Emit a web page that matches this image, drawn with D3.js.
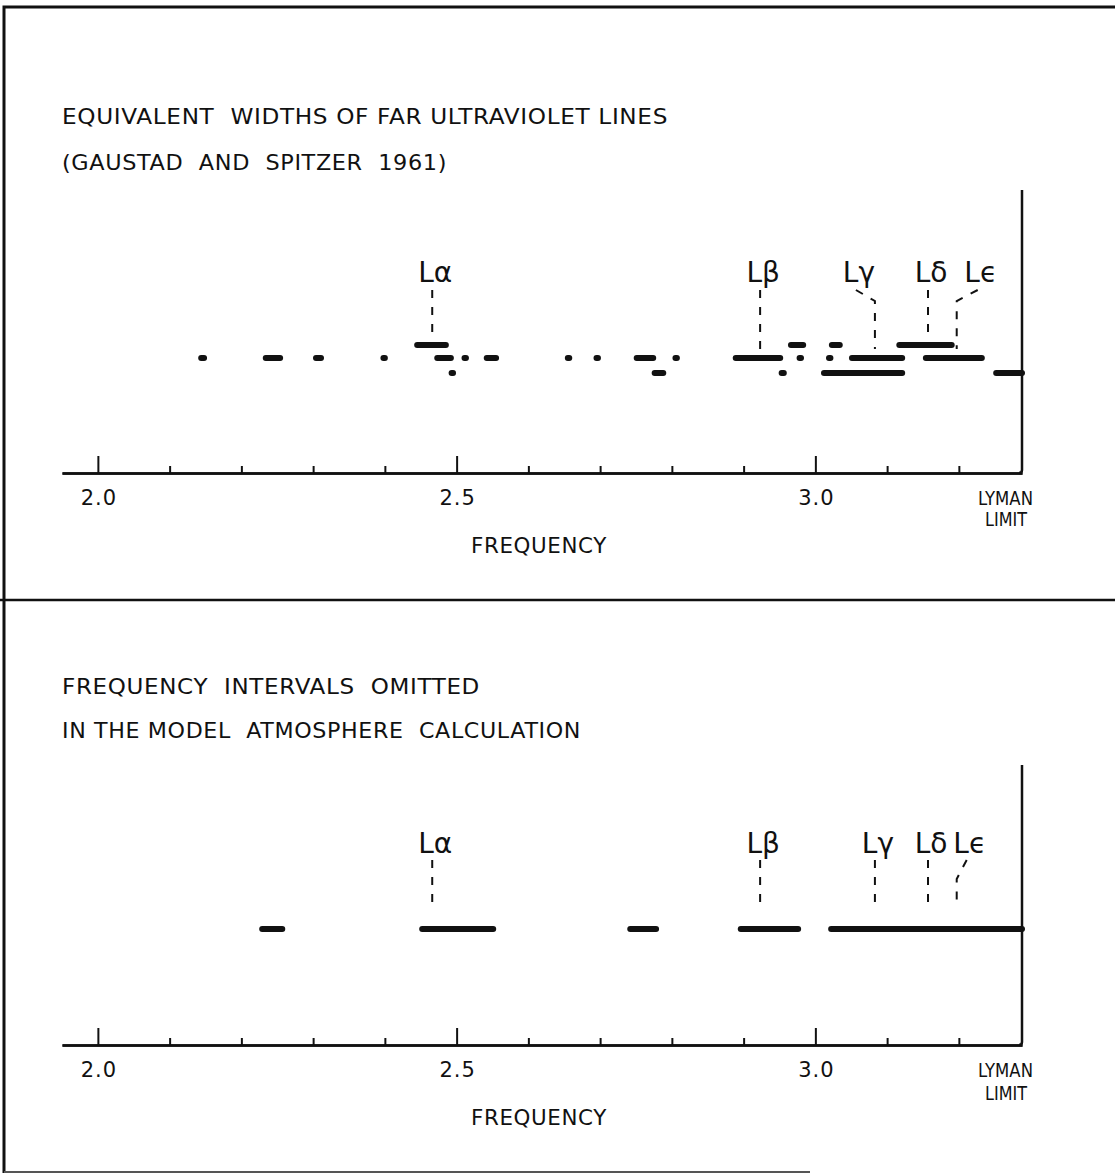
<!DOCTYPE html>
<html>
<head>
<meta charset="utf-8">
<script src="https://cdn.jsdelivr.net/npm/d3@7/dist/d3.min.js"></script>
<style>
  html, body { margin: 0; padding: 0; background: #fff; }
  svg { display: block; }
  text { font-family: "DejaVu Sans", sans-serif; fill: #111; white-space: pre; }
</style>
</head>
<body>
<script>
// Frequencies in units of 10^15 s^-1
const lymanLimit = 3.288;

// Hydrogen Lyman series lines
const lineNames = ["Lα", "Lβ", "Lγ", "Lδ", "Lϵ"];
const lineFreqs = [2.466, 2.923, 3.083, 3.157, 3.197];

// Equivalent widths of far-UV lines (Gaustad & Spitzer 1961), three staggered rows
const upperRow = [[2.445, 2.485], [2.966, 2.983], [3.023, 3.034], [3.117, 3.190]];
const middleRow = [
  [2.144, 2.148], [2.234, 2.254], [2.304, 2.311], [2.398, 2.400],
  [2.473, 2.492], [2.511, 2.513], [2.542, 2.555], [2.655, 2.657],
  [2.695, 2.697], [2.751, 2.774], [2.805, 2.807], [2.889, 2.951],
  [2.978, 2.980], [3.019, 3.021], [3.051, 3.121], [3.154, 3.232]
];
const lowerRow = [[2.493, 2.495], [2.776, 2.788], [2.953, 2.956], [3.012, 3.121], [3.252, 3.288]];

// Frequency intervals omitted in the model atmosphere calculation
const omittedIntervals = [[2.229, 2.257], [2.452, 2.551], [2.742, 2.778], [2.896, 2.976], [3.022, 3.288]];

// Axis ticks
const majorTicks = [2.0, 2.5, 3.0];
const minorTicks = [2.1, 2.2, 2.3, 2.4, 2.6, 2.7, 2.8, 2.9, 3.1, 3.2];

const topTitles = ["EQUIVALENT  WIDTHS OF FAR ULTRAVIOLET LINES", "(GAUSTAD  AND  SPITZER  1961)"];
const bottomTitles = ["FREQUENCY  INTERVALS  OMITTED", "IN THE MODEL  ATMOSPHERE  CALCULATION"];

const W = 1115, H = 1173;
const svg = d3.select("body").append("svg").attr("width", W).attr("height", H);

const x = d3.scaleLinear().domain([1.95, lymanLimit]).range([62, 1022]);

// Outer frame and panel divider
const frame = svg.append("g").attr("fill", "none").attr("stroke", "#111");
frame.append("path").attr("d", `M4,${H}V7H${W}`).attr("stroke-width", 3);
frame.append("line").attr("x1", 0).attr("x2", W).attr("y1", 600).attr("y2", 600).attr("stroke-width", 2.5);
frame.append("line").attr("x1", 4).attr("x2", 810).attr("y1", 1172).attr("y2", 1172)
  .attr("stroke-width", 2).attr("stroke", "#555");

// Wide, evenly spaced lettering
function lettering(sel, width) {
  return sel.attr("letter-spacing", 0.6)
    .attr("textLength", width).attr("lengthAdjust", "spacingAndGlyphs");
}

function drawPanel(opt) {
  const g = svg.append("g");

  // Titles
  opt.titles.forEach((t, i) => {
    g.append("text").attr("x", 62).attr("y", opt.titleY[i])
      .attr("font-size", 21.5)
      .call(lettering, opt.titleW[i])
      .text(t);
  });

  // Axis: minor and major ticks pointing up, axis line running to the Lyman limit
  const ax = g.append("g").attr("transform", `translate(0,${opt.axisY})`);
  ax.append("g").call(d3.axisTop(x).tickValues(minorTicks).tickSize(7).tickSizeOuter(0).tickFormat(""));
  ax.append("g").call(d3.axisTop(x).tickValues(majorTicks).tickSize(17).tickSizeOuter(0).tickFormat(""));
  ax.selectAll("path.domain").attr("stroke", "#111").attr("stroke-width", 2.5);
  ax.selectAll(".tick line").attr("stroke", "#111").attr("stroke-width", 2);

  // Right-hand boundary at the Lyman limit
  g.append("path")
    .attr("d", `M${x(lymanLimit)},${opt.rightTop}V${opt.axisY - 3}q0,3 -3,3`)
    .attr("fill", "none").attr("stroke", "#111").attr("stroke-width", 2.5);

  // Tick labels
  g.selectAll("text.tick-label").data(majorTicks).join("text")
    .attr("class", "tick-label")
    .attr("x", d => x(d) + 1).attr("y", opt.axisY + 32)
    .attr("text-anchor", "middle").attr("font-size", 21).attr("letter-spacing", 1)
    .text(d => d3.format(".1f")(d));

  g.append("text").attr("x", 471).attr("y", opt.axisY + 80)
    .attr("font-size", 21).call(lettering, 136).text("FREQUENCY");
  g.append("text").attr("x", x(lymanLimit) - 44).attr("y", opt.axisY + 32)
    .attr("font-size", 19.5).attr("textLength", 55).attr("lengthAdjust", "spacingAndGlyphs").text("LYMAN");
  g.append("text").attr("x", x(lymanLimit) - 37).attr("y", opt.axisY + opt.limitDy)
    .attr("font-size", 19.5).attr("textLength", 42).attr("lengthAdjust", "spacingAndGlyphs").text("LIMIT");

  // Bars
  const bars = g.append("g").attr("stroke", "#111").attr("stroke-width", 6).attr("stroke-linecap", "round");
  opt.rows.forEach(row => {
    bars.selectAll(null).data(row.data).join("line")
      .attr("x1", d => x(d[0])).attr("x2", d => x(d[1]))
      .attr("y1", row.y).attr("y2", row.y);
  });

  // Line identifications with dashed leaders
  const labels = g.append("g");
  lineFreqs.forEach((f, i) => {
    const lx = x(f);
    const kink = opt.kinks[i];
    const topX = lx + kink.dx;
    // leader ends just above the uppermost bar covering this line
    let barY = opt.rows[opt.rows.length - 1].y;
    for (const row of opt.rows) {
      if (row.data.some(d => f >= d[0] && f <= d[1])) { barY = row.y; break; }
    }
    const endY = barY - opt.leaderGap;
    const d = kink.dx === 0
      ? `M${lx},${opt.leaderTop}V${endY}`
      : `M${topX},${opt.leaderTop}L${lx},${opt.leaderTop + kink.dy}V${endY}`;
    labels.append("path").attr("d", d)
      .attr("fill", "none").attr("stroke", "#111").attr("stroke-width", 2)
      .attr("stroke-dasharray", "8,9");
    labels.append("text").attr("x", topX + 3).attr("y", opt.labelY)
      .attr("text-anchor", "middle").attr("font-size", 28)
      .text(lineNames[i]);
  });
}

drawPanel({
  titles: topTitles, titleY: [124, 170], titleW: [606, 385],
  axisY: 473, rightTop: 190, limitDy: 53,
  rows: [
    { data: upperRow, y: 345 },
    { data: middleRow, y: 358 },
    { data: lowerRow, y: 373 }
  ],
  labelY: 282, leaderTop: 290, leaderGap: 9,
  kinks: [{ dx: 0 }, { dx: 0 }, { dx: -19, dy: 11 }, { dx: 0 }, { dx: 21, dy: 11 }]
});

drawPanel({
  titles: bottomTitles, titleY: [694, 738], titleW: [418, 519],
  axisY: 1045, rightTop: 765, limitDy: 55,
  rows: [{ data: omittedIntervals, y: 929 }],
  labelY: 853, leaderTop: 860, leaderGap: 22,
  kinks: [{ dx: 0 }, { dx: 0 }, { dx: 0 }, { dx: 0 }, { dx: 10, dy: 19 }]
});
</script>
</body>
</html>
